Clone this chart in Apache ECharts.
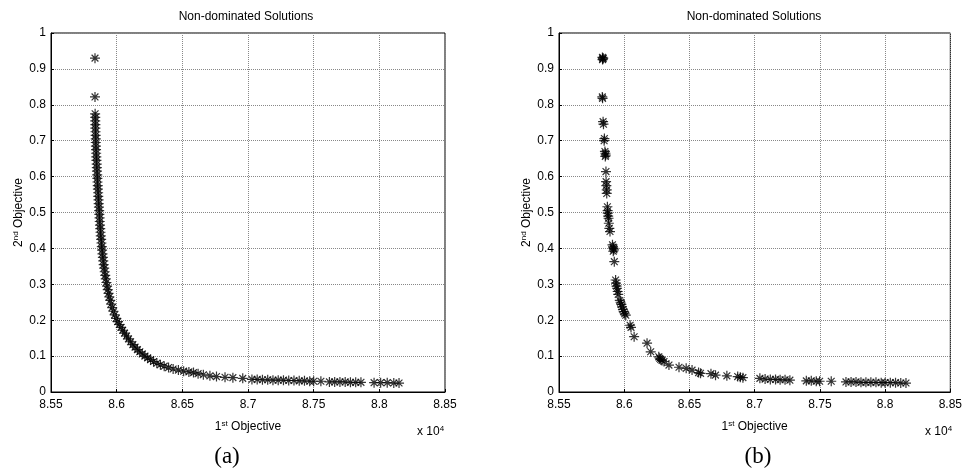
<!DOCTYPE html>
<html>
<head>
<meta charset="utf-8">
<script src="https://cdn.jsdelivr.net/npm/echarts@6/dist/echarts.min.js"></script>
<style>html,body{margin:0;padding:0;background:#fff}#c{width:965px;height:475px}</style>
</head>
<body>
<div id="c"></div>
<script>
// Tick labels (x in units of 10^4)
const xTicks = [8.55, 8.6, 8.65, 8.7, 8.75, 8.8, 8.85];
const yTicks = [0, 0.1, 0.2, 0.3, 0.4, 0.5, 0.6, 0.7, 0.8, 0.9, 1];
const titles = ['Non-dominated Solutions', 'Non-dominated Solutions'];
const panelLabels = ['(a)', '(b)'];

// Panel (a): 1st objective (x 10^4)
const aX = [8.5835,8.5835,
8.5836,8.5837,8.5837,8.5838,8.5838,8.5839,8.5840,8.5841,8.5841,8.5842,8.5843,8.5844,8.5845,8.5846,8.5848,8.5849,8.5850,8.5852,8.5853,8.5854,8.5856,8.5857,8.5859,8.5860,8.5862,8.5863,8.5865,8.5867,8.5868,8.5870,8.5871,8.5873,8.5875,8.5877,8.5879,8.5882,8.5884,8.5887,8.5889,8.5892,8.5895,8.5898,8.5901,8.5905,8.5909,8.5913,8.5917,8.5922,8.5927,8.5932,8.5938,8.5944,8.5951,8.5958,8.5966,8.5975,8.5985,8.5996,
8.6008,8.6020,8.6033,8.6046,8.6060,8.6075,8.6090,8.6106,8.6123,8.6140,8.6158,8.6176,8.6195,8.6215,8.6236,8.6258,8.6281,8.6306,8.6333,8.6362,8.6395,8.6430,8.6470,8.6510,8.6550,8.6585,8.6620,8.6660,8.6710,8.6760,8.6825,8.6885,8.6960,
8.7030,8.7070,8.7110,8.7150,8.7190,8.7230,8.7270,8.7310,8.7350,8.7390,8.7430,8.7470,8.7500,8.7555,8.7620,8.7660,8.7700,8.7740,8.7780,8.7820,8.7860,8.7960,8.8010,8.8060,8.8110,8.8150];
// Panel (a): 2nd objective
const aY = [0.930,0.822,
0.775,0.765,0.755,0.745,0.735,0.725,0.715,0.705,0.695,0.685,0.675,0.665,0.655,0.645,0.635,0.625,0.615,0.605,0.595,0.585,0.575,0.565,0.555,0.545,0.535,0.525,0.515,0.505,0.495,0.485,0.475,0.465,0.455,0.445,0.435,0.425,0.415,0.405,0.395,0.385,0.375,0.365,0.355,0.345,0.335,0.325,0.315,0.305,0.295,0.285,0.275,0.265,0.255,0.245,0.235,0.225,0.215,0.205,
0.196,0.188,0.180,0.172,0.164,0.156,0.148,0.140,0.132,0.125,0.118,0.112,0.106,0.100,0.095,0.090,0.085,0.080,0.076,0.072,0.068,0.064,0.061,0.058,0.056,0.054,0.051,0.048,0.045,0.043,0.041,0.040,0.038,
0.035,0.035,0.034,0.034,0.033,0.033,0.033,0.032,0.032,0.031,0.031,0.030,0.030,0.030,0.028,0.028,0.028,0.028,0.027,0.027,0.027,0.026,0.026,0.026,0.025,0.025];

// Panel (b): 1st objective (x 10^4)
const bX = [8.5833,8.5836,8.5839,8.5834,8.5832,8.5834,8.5838,8.5841,8.5848,8.5846,8.5852,8.5856,8.5858,8.5855,
8.5860,8.5861,8.5863,8.5866,8.5866,8.5871,8.5873,8.5874,8.5877,8.5880,8.5882,8.5886,8.5891,
8.5910,8.5914,8.5918,8.5921,8.5916,8.5924,
8.5934,8.5937,8.5941,8.5945,8.5950,8.5954,8.5966,8.5972,8.5978,8.5983,8.5990,8.5996,8.6004,8.6012,
8.6045,8.6052,8.6076,8.6175,8.6203,8.6265,8.6272,8.6280,8.6290,8.6305,
8.6343,8.6420,8.6475,8.6520,8.6570,8.6585,8.6665,8.6700,8.6787,8.6870,8.6890,8.6910,
8.7040,8.7080,8.7120,8.7160,8.7195,8.7233,8.7270,8.7396,8.7434,8.7472,8.7498,8.7587,
8.7700,8.7739,8.7777,8.7815,8.7853,8.7891,8.7930,8.7970,8.8000,8.8040,8.8080,8.8120,8.8160];
// Panel (b): 2nd objective
const bY = [0.932,0.928,0.930,0.926,0.822,0.818,0.753,0.746,0.706,0.700,0.670,0.665,0.660,0.656,
0.614,0.586,0.575,0.563,0.553,0.516,0.505,0.498,0.490,0.484,0.470,0.456,0.447,
0.410,0.404,0.400,0.396,0.392,0.363,
0.312,0.303,0.295,0.289,0.280,0.272,0.255,0.250,0.244,0.237,0.230,0.224,0.218,0.214,
0.186,0.180,0.154,0.136,0.112,0.098,0.094,0.091,0.088,0.085,
0.075,0.069,0.066,0.061,0.054,0.052,0.051,0.047,0.045,0.043,0.041,0.040,
0.038,0.036,0.035,0.035,0.034,0.034,0.033,0.031,0.031,0.030,0.030,0.030,
0.028,0.028,0.028,0.027,0.027,0.027,0.027,0.026,0.026,0.026,0.026,0.025,0.025];

const FONT = '"Liberation Sans", Arial, sans-serif';
const star = 'path://M5,0L5,10M0,5L10,5M1.6,1.6L8.4,8.4M1.6,8.4L8.4,1.6';

function pairs(xs, ys) { return xs.map((v, i) => [v, ys[i]]); }

const grids = [
  {left: 51, top: 33, width: 394, height: 359},
  {left: 559, top: 33, width: 394, height: 359}
];

const supRich = {s: {fontSize: 8, fontFamily: FONT, color: '#000', verticalAlign: 'top', lineHeight: 8}};

function xAxis(gi) {
  return {
    type: 'value', gridIndex: gi, min: xTicks[0], max: xTicks[xTicks.length - 1], interval: 0.05,
    name: '1{s|st} Objective', nameLocation: 'middle', nameGap: 28,
    nameTextStyle: {color: '#000', fontFamily: FONT, fontSize: 12, lineHeight: 14, rich: supRich},
    axisLine: {show: true, onZero: false, lineStyle: {color: '#000', width: 1}},
    axisTick: {show: true, inside: true, length: 3, lineStyle: {color: '#000'}},
    axisLabel: {color: '#000', fontFamily: FONT, fontSize: 12, margin: 7,
      formatter: v => String(+v.toFixed(2))},
    splitLine: {show: true, lineStyle: {color: '#888', type: 'dotted', width: 1}}
  };
}
function yAxis(gi) {
  return {
    type: 'value', gridIndex: gi, min: yTicks[0], max: yTicks[yTicks.length - 1], interval: 0.1,
    name: '2{s|nd} Objective', nameLocation: 'middle', nameGap: 23, nameRotate: 90,
    nameTextStyle: {color: '#000', fontFamily: FONT, fontSize: 12, lineHeight: 14, rich: supRich},
    axisLine: {show: true, onZero: false, lineStyle: {color: '#000', width: 1}},
    axisTick: {show: true, inside: true, length: 3, lineStyle: {color: '#000'}},
    axisLabel: {color: '#000', fontFamily: FONT, fontSize: 12, margin: 5,
      formatter: v => String(+v.toFixed(1))},
    splitLine: {show: true, lineStyle: {color: '#888', type: 'dotted', width: 1}}
  };
}

function series(gi, data) {
  return {
    type: 'scatter', xAxisIndex: gi, yAxisIndex: gi, data: data,
    symbol: star, symbolSize: 10,
    itemStyle: {color: 'rgba(0,0,0,0)', borderColor: '#000', borderWidth: 1.2},
    emphasis: {disabled: true}, silent: true
  };
}

const graphics = [];
[0, 1].forEach(gi => {
  const g = grids[gi];
  const cx = g.left + g.width / 2;
  graphics.push({type: 'text', x: cx - 2, y: 17, style: {text: titles[gi], fill: '#000',
    fontFamily: FONT, fontSize: 12, align: 'center', verticalAlign: 'middle'}});
  graphics.push({type: 'text', x: g.left + g.width - 28, y: 432, style: {text: 'x 10{s|4}', fill: '#000',
    fontFamily: FONT, fontSize: 12, lineHeight: 14, align: 'left', verticalAlign: 'middle',
    rich: {s: {fontSize: 8, fontFamily: FONT, fill: '#000', verticalAlign: 'top', lineHeight: 8}}}});
  graphics.push({type: 'text', x: cx - (gi === 0 ? 21 : -2), y: 457, style: {text: panelLabels[gi], fill: '#000',
    fontFamily: '"Liberation Serif", "Times New Roman", serif', fontSize: 23, align: 'center', verticalAlign: 'middle'}});
});

const chart = echarts.init(document.getElementById('c'), null, {renderer: 'canvas'});
chart.setOption({
  animation: false,
  backgroundColor: '#fff',
  grid: grids.map(g => Object.assign({show: true, borderColor: '#000', borderWidth: 1, backgroundColor: 'transparent'}, g)),
  xAxis: [xAxis(0), xAxis(1)],
  yAxis: [yAxis(0), yAxis(1)],
  series: [series(0, pairs(aX, aY)), series(1, pairs(bX, bY))],
  graphic: graphics
});
</script>
</body>
</html>
